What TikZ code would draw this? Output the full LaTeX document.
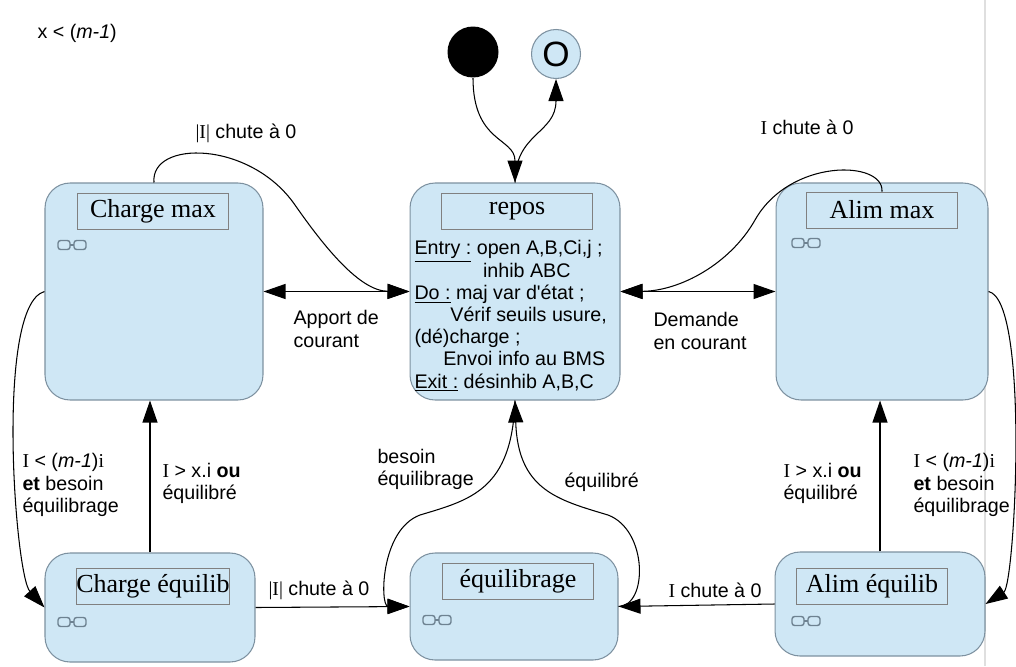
\documentclass[tikz,border=0pt]{standalone}
\usepackage{fontspec}
\setmainfont{Liberation Sans}
\newfontfamily\serif{Liberation Serif}
\usetikzlibrary{arrows.meta,positioning}

\definecolor{etatfill}{RGB}{207,231,245}
\definecolor{etatdraw}{RGB}{125,145,160}
\definecolor{glassdraw}{RGB}{110,130,145}

\tikzset{
  statebox/.style={draw=etatdraw, fill=etatfill, rounded corners=0.5cm, line width=0.6pt},
  titlebox/.style={draw=gray, fill=etatfill, line width=0.5pt, minimum width=3.02cm,
    minimum height=0.72cm, inner sep=0pt, font=\serif\fontsize{14.8}{16}\selectfont},
  lbl/.style={align=left, inner sep=0pt, anchor=west, font=\fontsize{11.2}{12.6}\selectfont},
  glasses/.pic={
    \draw[glassdraw, line width=0.8pt, rounded corners=1.5pt]
      (-14,-4.5) rectangle (-2,4.5) (2,-4.5) rectangle (14,4.5);
    \draw[glassdraw, line width=0.8pt] (-2,0) -- (2,0);
  }
}

\begin{document}
\begin{tikzpicture}[x=0.02cm, y=-0.02cm, line width=0.6pt,
  >={Triangle[length=0.44cm, width=0.3cm]}]

 \useasboundingbox (0,0) rectangle (1016,666);
 \draw[gray!25, line width=1pt] (985,0) -- (985,666);

 % etats
 \node[statebox, minimum width=4.36cm, minimum height=4.34cm] (chmax) at (154,291.5) {};
 \node[statebox, minimum width=4.2cm,  minimum height=4.34cm] (repos) at (515,291.5) {};
 \node[statebox, minimum width=4.24cm, minimum height=4.34cm] (almax) at (882,291.5) {};
 \node[statebox, minimum width=4.2cm,  minimum height=2.18cm] (cheq)  at (150,607.5) {};
 \node[statebox, minimum width=4.16cm, minimum height=2.14cm] (equil) at (514,606.5) {};
 \node[statebox, minimum width=4.2cm,  minimum height=2.08cm] (aleq)  at (880,604) {};

 \node[titlebox] (chmaxt) at (153,211) {Charge max};
 \node[titlebox] (repost) at (517,211) {repos};
 \node[titlebox] (almaxt) at (882,210) {Alim max};
 \node[titlebox] (cheqt)  at (153,586) {Charge équilib};
 \node[titlebox] (equilt) at (518,581.5) {équilibrage};
 \node[titlebox] (aleqt)  at (872,586) {Alim équilib};

 \pic at (72,245) {glasses};
 \pic at (806,243) {glasses};
 \pic at (72,622) {glasses};
 \pic at (437,620) {glasses};
 \pic at (806,621) {glasses};

 \node[anchor=north west, align=left, inner sep=0pt, font=\fontsize{11.2}{12.65}\selectfont]
   (activ) at (414,240) {\underline{Entry :} open A,B,Ci,j ;\\
   \hspace*{39pt}inhib ABC\\
   \underline{Do :} maj var d\textquotesingle état ;\\
   \hspace*{20.4pt}Vérif seuils usure,\\
   (dé)charge ;\\
   \hspace*{16.4pt}Envoi info au BMS\\
   \underline{Exit :} désinhib A,B,C};

 % initial / final
 \node[circle, fill=black, minimum size=1.02cm, inner sep=0pt] (init) at (473,52) {};
 \node[circle, draw=etatdraw, fill=etatfill, minimum size=0.98cm, inner sep=0pt,
   font=\fontsize{20}{20}\selectfont] (fin) at (556,54) {O};

 \draw[->] (init.south) .. controls +(0,65) and +(0,-45) .. (repos.north);
 \draw[->] (repos.north) .. controls +(0,-50) and +(0,55) .. (fin.south);

 % transitions du haut
 \draw[->] (chmax.north) .. controls (150,140) and (250,140) .. (295,205)
   .. controls (325,248) and (360,291) .. (repos.west);
 \draw[<->] (chmax.east) -- (repos.west);
 \draw[->] (almaxt.north) .. controls (884,160) and (790,158) .. (755,220)
   .. controls (730,264) and (680,291) .. (repos.east);
 \draw[<->] (repos.east) -- (almax.west);

 % cotes
 \draw[->] (chmax.west) .. controls (-5,305) and (15,575) .. (cheq.west);
 \draw[->] (cheq.north) -- (cheq.north |- chmax.south);
 \draw[->] (almax.east) .. controls (1030,300) and (1015,585) .. (aleq.east);
 \draw[->] (aleq.north) -- (aleq.north |- almax.south);

 % bas
 \draw[->] (cheq.east) -- (equil.west);
 \draw[->] (aleq.west) -- (equil.east);
 \draw[->] (repos.south) .. controls (512,490) and (470,500) .. (420,515)
   .. controls (380,530) and (380,606) .. (equil.west);
 \draw[->] (equil.east) .. controls (648,606) and (648,530) .. (608,515)
   .. controls (558,500) and (518,490) .. (repos.south);

 % etiquettes
 \node[lbl] (lx)  at (37,33)   {x < (\textit{m-1})};
 \node[lbl] (l1)  at (195,133) {{\serif |I|} chute à 0};
 \node[lbl] (l2)  at (760,127) {{\serif I} chute à 0};
 \node[lbl] (l3)  at (293,329) {Apport de\\courant};
 \node[lbl] (l4)  at (653,331) {Demande\\en courant};
 \node[lbl] (l5)  at (22,485)  {{\serif I} < (\textit{m-1}){\serif i}\\\textbf{et} besoin\\équilibrage};
 \node[lbl] (l6)  at (162,483) {{\serif I} > x.i \textbf{ou}\\équilibré};
 \node[lbl] (l7)  at (268,590) {{\serif |I|} chute à 0};
 \node[lbl] (l8)  at (377,469) {besoin\\équilibrage};
 \node[lbl] (l9)  at (564,482) {équilibré};
 \node[lbl] (l10) at (668,590) {{\serif I} chute à 0};
 \node[lbl] (l11) at (783,483) {{\serif I} > x.i \textbf{ou}\\équilibré};
 \node[lbl] (l12) at (913,485) {{\serif I} < (\textit{m-1}){\serif i}\\\textbf{et} besoin\\équilibrage};

\end{tikzpicture}
\end{document}
